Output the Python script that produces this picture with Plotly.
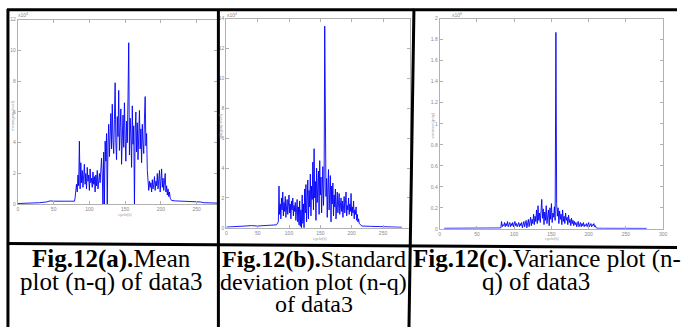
import plotly.graph_objects as go

W, H = 681, 330
def px(x):
    return x / W
def py(y):
    return 1 - y / H

# ---------------- data ----------------
# Panel (a) mean, units x10^4
a_left_x = [0, 10, 20, 30, 40, 45, 50, 60, 70, 79]
a_left_y = [0.05, 0.06, 0.08, 0.1, 0.15, 0.22, 0.2, 0.18, 0.2, 0.2]
a_start = 80
a_vals = [0.4, 0.9, 1.3, 0.8, 1.9, 1.2, 4.1, 1.0, 2.7, 1.4, 2.2, 1.1, 1.8, 2.6, 1.3, 2.0, 1.0, 2.4, 1.5, 1.9,
          0.9, 2.3, 1.4, 1.7, 1.1, 2.1, 1.3, 1.8, 0.8, 1.9, 1.2, 2.2, 1.0, 1.6, 2.0, 1.4, 2.4, 3.0, 1.9,
          0.0,
          3.4, 0.0, 4.1, 2.8, 4.6, 0.0, 3.9, 5.2, 3.1, 4.8, 5.9, 3.6, 6.5, 4.2, 3.3, 5.5, 7.9, 4.0, 2.9, 5.7,
          4.4, 7.4, 3.5, 5.0, 6.2, 2.6, 4.8, 5.8, 3.7, 6.6, 4.3, 2.8, 5.4, 4.0, 6.9, 10.5, 3.2, 5.6, 4.5, 2.4,
          6.4, 3.9, 5.1, 0.0, 4.7, 6.0, 3.4, 5.3, 2.9, 4.6, 6.1, 3.6, 4.9, 2.7, 5.2, 4.0, 3.3, 5.6, 7.0, 3.8,
          4.6, 2.2,
          1.2, 0.9, 1.5, 1.1, 1.4, 0.8, 1.6, 1.0, 1.3, 1.8, 0.9, 1.5, 1.2, 2.0, 1.0, 1.6, 2.2, 0.8, 1.4, 2.3,
          1.1, 1.7, 0.9, 1.3, 2.0, 0.8, 1.2, 0.6, 1.0, 0.5, 0.8, 0.4, 0.3]
a_right_x = [215, 220, 230, 240, 250, 255, 260, 270, 280, 290, 300]
a_right_y = [0.25, 0.22, 0.2, 0.22, 0.2, 0.15, 0.1, 0.08, 0.06, 0.05, 0.05]

# Panel (b) standard deviation
b_left_x = [0, 10, 20, 30, 40, 50, 60, 70, 80, 83]
b_left_y = [0.05, 0.06, 0.1, 0.12, 0.15, 0.12, 0.15, 0.18, 0.2, 0.4]
b_start = 84
b_vals = [2.8, 0.9, 1.6, 0.6, 2.0, 1.2, 2.4, 0.8, 1.7, 1.1, 2.1, 0.7, 1.5, 1.9, 0.9, 1.4, 2.2, 1.0, 1.6, 0.6,
          1.8, 1.2, 2.0, 0.8, 1.5, 1.1, 1.7, 0.5, 1.3, 1.9, 0.4, 1.4, 0.2, 1.8, 0.1, 1.2, 0.0, 2.2, 0.3, 1.6,
          0.0, 2.6, 1.0, 2.9, 0.4, 2.1, 3.2, 0.6, 2.5, 1.4, 3.6, 0.8, 2.8, 1.9, 4.4, 1.2, 5.3, 2.0, 3.1, 0.5,
          4.0, 1.7, 2.7, 3.8, 0.9, 4.5, 2.2, 3.4, 1.0, 2.9, 4.1, 1.5, 3.0, 13.5, 4.8, 2.1, 3.3, 0.7, 2.6, 3.9,
          1.2, 2.4, 3.5, 0.4, 2.8, 1.6, 3.0, 0.8, 2.2, 1.4, 2.6, 0.6, 1.9, 2.4, 1.0, 1.7, 2.3, 0.9, 1.5, 2.0,
          1.1, 1.8, 0.7, 1.4, 2.1, 1.0, 1.6, 2.4, 0.8, 1.5, 1.2, 2.0, 0.9, 1.6, 1.1, 2.3, 0.8, 1.4, 1.0, 1.8,
          0.6, 1.2, 0.9, 1.4, 0.5, 0.9, 0.4, 0.6, 0.3, 0.25, 0.2, 0.15]
b_right_x = [216, 230, 240, 250, 260, 270, 280]
b_right_y = [0.12, 0.1, 0.08, 0.06, 0.05, 0.05, 0.04]

# Panel (c) variance
c_left_x = [6, 20, 40, 60, 75, 82]
c_left_y = [0.005, 0.005, 0.006, 0.005, 0.006, 0.008]
c_start = 83
c_vals = [0.07, 0.02, 0.04, 0.03, 0.06, 0.02, 0.05, 0.03, 0.07, 0.02, 0.04, 0.06, 0.02, 0.05, 0.03, 0.06,
          0.02, 0.04, 0.07, 0.03, 0.05, 0.02, 0.04, 0.06, 0.02, 0.05, 0.03, 0.06, 0.01, 0.04, 0.07, 0.02,
          0.05, 0.08, 0.01, 0.06, 0.09, 0.02, 0.07, 0.11, 0.03, 0.09, 0.05, 0.14, 0.04, 0.12, 0.07, 0.18,
          0.05, 0.22, 0.08, 0.15, 0.06, 0.26, 0.28, 0.1, 0.19, 0.04, 0.16, 0.08, 0.22, 0.05, 0.13, 0.18,
          0.03, 0.2, 0.09, 0.24, 0.06, 0.15, 0.11, 0.21, 0.08, 1.87, 0.24, 0.12, 0.2, 0.05, 0.17, 0.09,
          0.14, 0.04, 0.18, 0.07, 0.12, 0.05, 0.15, 0.08, 0.11, 0.04, 0.13, 0.06, 0.09, 0.03, 0.1, 0.05,
          0.08, 0.03, 0.07, 0.04, 0.06, 0.02, 0.05, 0.07, 0.02, 0.04, 0.06, 0.02, 0.05, 0.03, 0.06, 0.02,
          0.04, 0.03, 0.05, 0.02, 0.04, 0.06, 0.02, 0.03, 0.05, 0.02, 0.04, 0.03, 0.05, 0.02, 0.03, 0.01]
c_right_x = [211, 220, 240, 260, 278]
c_right_y = [0.006, 0.005, 0.005, 0.004, 0.004]

x_ticks = [0, 50, 100, 150, 200, 250, 300]
a_yticks = [0, 2, 4, 6, 8, 10, 12]
b_yticks = [0, 2, 4, 6, 8, 10, 12, 14]
c_yticks = [0, 0.2, 0.4, 0.6, 0.8, 1, 1.2, 1.4, 1.6, 1.8, 2]

captions_a = ["<b>Fig.12(a).</b>Mean", "plot (n-q) of data3"]
captions_b = ["<b>Fig.12(b).</b>Standard", "deviation plot (n-q)", "of data3"]
captions_c = ["<b>Fig.12(c).</b>Variance plot (n-", "q) of data3"]


def series(lx, ly, start, vals, rx, ry):
    xs = list(lx) + [start + i for i in range(len(vals))] + list(rx)
    ys = list(ly) + list(vals) + list(ry)
    return xs, ys


fig = go.Figure()
line_style = dict(color="rgba(0,0,250,0.9)", width=1.0)
for (lx, ly, st, v, rx, ry), ax in [((a_left_x, a_left_y, a_start, a_vals, a_right_x, a_right_y), ("x", "y")),
                                     ((b_left_x, b_left_y, b_start, b_vals, b_right_x, b_right_y), ("x2", "y2")),
                                     ((c_left_x, c_left_y, c_start, c_vals, c_right_x, c_right_y), ("x3", "y3"))]:
    xs, ys = series(lx, ly, st, v, rx, ry)
    fig.add_trace(go.Scatter(x=xs, y=ys, mode="lines", line=line_style,
                             xaxis=ax[0], yaxis=ax[1], showlegend=False, hoverinfo="skip"))

tick_font = dict(size=5, color="#888", family="Liberation Sans")
common = dict(showgrid=False, zeroline=False, showline=True, linecolor="#b0b0b0", linewidth=1,
              ticks="inside", ticklen=3, tickcolor="#b0b0b0", mirror="ticks", tickfont=tick_font)

fig.update_layout(
    width=W, height=H, margin=dict(l=0, r=0, t=0, b=0),
    paper_bgcolor="white", plot_bgcolor="white",
    xaxis=dict(domain=[px(17), px(218)], range=[0, 279], tickvals=x_ticks, anchor="y", **common),
    yaxis=dict(domain=[py(205), py(17)], range=[0, 12], tickvals=a_yticks, anchor="x", **common),
    xaxis2=dict(domain=[px(227), px(412)], range=[0, 293], tickvals=x_ticks, anchor="y2", **common),
    yaxis2=dict(domain=[py(229), py(16)], range=[0, 14], tickvals=b_yticks, anchor="x2", **common),
    xaxis3=dict(domain=[px(442), px(667)], range=[0, 300], tickvals=x_ticks, anchor="y3", **common),
    yaxis3=dict(domain=[py(230), py(16)], range=[0, 2], tickvals=c_yticks, anchor="x3", **common),
)

# table borders
border = dict(color="black", width=3)
shapes = [
    dict(type="line", xref="paper", yref="paper", x0=px(6), x1=1, y0=py(7), y1=py(7), line=border),
    dict(type="line", xref="paper", yref="paper", x0=px(6), x1=1, y0=py(245), y1=py(249), line=border),
    dict(type="line", xref="paper", yref="paper", x0=px(7), x1=px(7), y0=py(6), y1=0, line=border),
    dict(type="line", xref="paper", yref="paper", x0=px(219), x1=px(219), y0=py(6), y1=0, line=border),
    dict(type="line", xref="paper", yref="paper", x0=px(416), x1=px(411), y0=py(6), y1=0, line=border),
]
fig.update_layout(shapes=shapes)

ann = []
cap_font_a = dict(family="Liberation Serif", size=25, color="black")
cap_font = dict(family="Liberation Serif", size=24, color="black")
line_y = [261, 284, 307]
for i, t in enumerate(captions_a):
    ann.append(dict(text=t, x=px(111), y=py(line_y[i]), xref="paper", yref="paper",
                    showarrow=False, font=cap_font_a, xanchor="center", yanchor="middle"))
for i, t in enumerate(captions_b):
    ann.append(dict(text=t, x=px(315), y=py(line_y[i]), xref="paper", yref="paper",
                    showarrow=False, font=cap_font, xanchor="center", yanchor="middle"))
ann.append(dict(text=captions_c[0], x=px(413), y=py(line_y[0]), xref="paper", yref="paper",
                showarrow=False, font=cap_font_a, xanchor="left", yanchor="middle"))
ann.append(dict(text=captions_c[1], x=px(539), y=py(line_y[1]), xref="paper", yref="paper",
                showarrow=False, font=cap_font_a, xanchor="center", yanchor="middle"))

small = dict(size=5, color="#888", family="Liberation Sans")
for xx, yy, t in [(15, 12, "x10<sup>4</sup>"), (226, 12, "x10<sup>4</sup>"), (452, 12, "x10<sup>8</sup>")]:
    ann.append(dict(text=t, x=px(xx), y=py(yy), xref="paper", yref="paper", showarrow=False,
                    font=small, xanchor="left", yanchor="middle"))
small_lab = dict(size=4, color="#999", family="Liberation Sans")
for xx, yy, t in [(125, 215, "cycle(k)"), (321, 240, "cycle(k)"), (555, 240, "cycle(k)")]:
    ann.append(dict(text=t, x=px(xx), y=py(yy), xref="paper", yref="paper", showarrow=False,
                    font=small_lab, xanchor="center", yanchor="middle"))
for xx, yy, t in [(12, 115, "mean(gray level)"), (221, 125, "std(gray level)"), (435, 125, "variance(gray)")]:
    ann.append(dict(text=t, x=px(xx), y=py(yy), xref="paper", yref="paper", showarrow=False,
                    font=small_lab, textangle=-90, xanchor="center", yanchor="middle"))
fig.update_layout(annotations=ann)

fig.write_html("out.html")
